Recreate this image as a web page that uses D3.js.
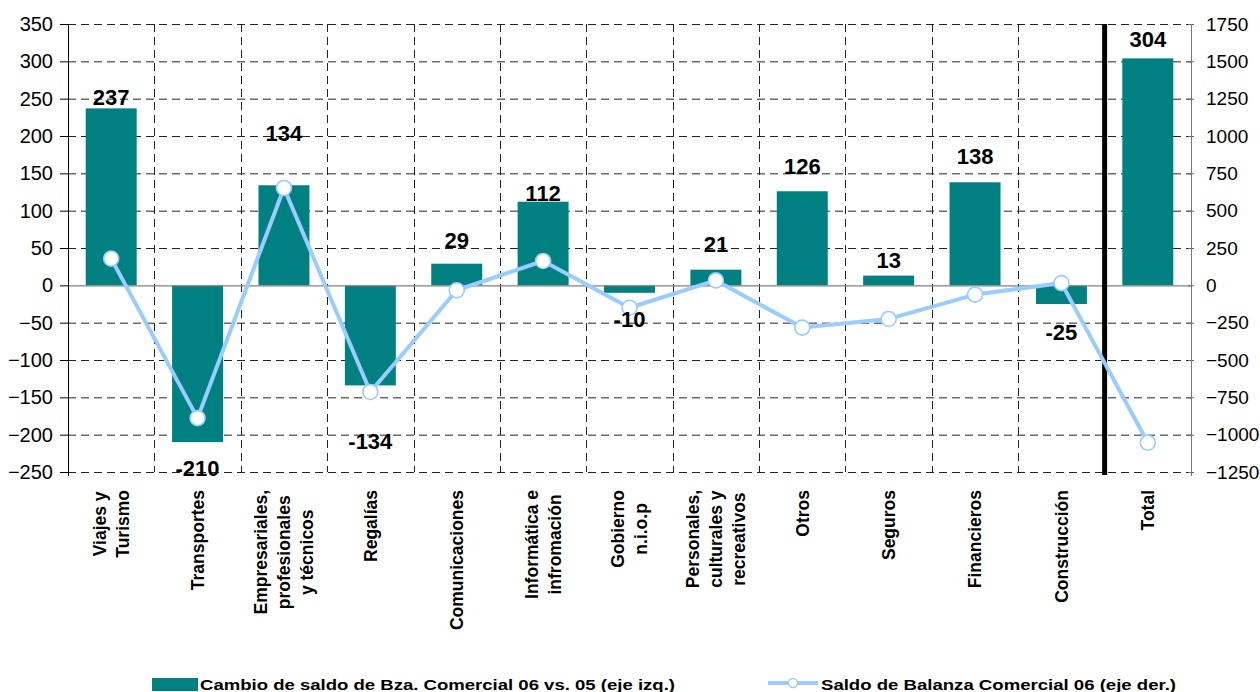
<!DOCTYPE html>
<html>
<head>
<meta charset="utf-8">
<script src="https://cdn.jsdelivr.net/npm/d3@7"></script>
<style>
  html, body { margin: 0; padding: 0; background: #ffffff; }
  svg { display: block; font-family: "Liberation Sans", Arial, sans-serif; }
</style>
</head>
<body>
<svg id="chart" width="1260" height="692"></svg>
<script>
// ---------- data ----------
const categories = [
  "Viajes y\nTurismo", "Transportes", "Empresariales,\nprofesionales\ny técnicos", "Regalías",
  "Comunicaciones", "Informática e\ninfromación", "Gobierno\nn.i.o.p",
  "Personales,\nculturales y\nrecreativos", "Otros", "Seguros", "Financieros",
  "Construcción", "Total"
];
const cambioSaldo = [237, -210, 134, -134, 29, 112, -10, 21, 126, 13, 138, -25, 304];
const saldoBalanza = [179, -889, 652, -714, -33, 163, -150, 33, -283, -225, -62, 15, -1054];
const leftTicks = [350, 300, 250, 200, 150, 100, 50, 0, -50, -100, -150, -200, -250];
const rightTicks = [1750, 1500, 1250, 1000, 750, 500, 250, 0, -250, -500, -750, -1000, -1250];
const seriesNames = ["Cambio de saldo de Bza. Comercial 06 vs. 05 (eje izq.)",
                     "Saldo de Balanza Comercial 06 (eje der.)"];

// ---------- layout / style ----------
const labelDy = [-11, 26, -52, 56, -24, -9, 26, -26, -25, -16, -26, 28, -19]; // manual label offsets (px)
const plot = { left: 68, right: 1191, top: 24, bottom: 472 };
const barColor = "#008080";
const lineColor = "#99CCFF";

const svg = d3.select("#chart");
svg.append("rect").attr("width", 1260).attr("height", 692).attr("fill", "#fff");

const x = d3.scaleBand().domain(categories)
  .range([plot.left, plot.right]).paddingInner(0.41).paddingOuter(0.205);
const yL = d3.scaleLinear().domain([-250, 350]).range([plot.bottom, plot.top]);
const yR = d3.scaleLinear().domain([-1250, 1750]).range([plot.bottom, plot.top]);
const cx = c => x(c) + x.bandwidth() / 2;

// horizontal dashed gridlines
svg.append("g").selectAll("line").data(leftTicks.filter(t => t !== 0)).join("line")
  .attr("x1", plot.left).attr("x2", plot.right)
  .attr("y1", d => yL(d) + 0.5).attr("y2", d => yL(d) + 0.5)
  .attr("stroke", "#222").attr("stroke-width", 1).attr("stroke-dasharray", "8,5");

// vertical dashed gridlines at category boundaries
const bounds = categories.slice(1).map(c => x(c) - x.step() * x.paddingInner() / 2);
svg.append("g").selectAll("line").data(bounds).join("line")
  .attr("x1", d => Math.round(d) + 0.5).attr("x2", d => Math.round(d) + 0.5)
  .attr("y1", plot.top).attr("y2", plot.bottom)
  .attr("stroke", "#222").attr("stroke-width", 1).attr("stroke-dasharray", "8,5");

// bars
svg.append("g").selectAll("rect").data(categories).join("rect")
  .attr("x", d => x(d))
  .attr("width", x.bandwidth())
  .attr("y", (d, i) => Math.min(yL(cambioSaldo[i]), yL(0)))
  .attr("height", (d, i) => Math.abs(yL(cambioSaldo[i]) - yL(0)))
  .attr("fill", barColor);

// zero line
svg.append("line").attr("x1", plot.left).attr("x2", plot.right)
  .attr("y1", yL(0) + 0.5).attr("y2", yL(0) + 0.5)
  .attr("stroke", "#808080").attr("stroke-width", 1.3);

// left axis
const axL = svg.append("g").attr("transform", `translate(${plot.left},0)`)
  .call(d3.axisLeft(yL).tickValues(leftTicks).tickSize(8).tickPadding(7).tickFormat(d3.format("d")));
axL.select(".domain").remove();
axL.selectAll(".tick line").attr("stroke", "#000");
axL.selectAll("text").attr("font-size", 20).attr("fill", "#000")
  .attr("font-family", "'Liberation Sans', Arial, sans-serif");
svg.append("line").attr("x1", plot.left + 0.5).attr("x2", plot.left + 0.5)
  .attr("y1", plot.top).attr("y2", plot.bottom + 4).attr("stroke", "#000");

// right axis
const axR = svg.append("g").attr("transform", `translate(${plot.right},0)`)
  .call(d3.axisRight(yR).tickValues(rightTicks).tickSize(3).tickPadding(12).tickFormat(d3.format("d")));
axR.select(".domain").remove();
axR.selectAll(".tick line").attr("stroke", "#666").attr("x1", -3);
axR.selectAll("text").attr("font-size", 19).attr("fill", "#000")
  .attr("font-family", "'Liberation Sans', Arial, sans-serif");
svg.append("line").attr("x1", plot.right + 0.5).attr("x2", plot.right + 0.5)
  .attr("y1", plot.top).attr("y2", plot.bottom + 4).attr("stroke", "#777");

// thick separator before Total
const sepX = x("Total") - x.step() * x.paddingInner() / 2;
svg.append("line").attr("x1", sepX).attr("x2", sepX)
  .attr("y1", plot.top).attr("y2", plot.bottom + 3)
  .attr("stroke", "#000").attr("stroke-width", 5);

// line series
const line = d3.line().x((d, i) => cx(categories[i])).y(d => yR(d));
svg.append("path").datum(saldoBalanza).attr("d", line)
  .attr("fill", "none").attr("stroke", lineColor).attr("stroke-width", 4)
  .attr("stroke-linejoin", "round");
svg.append("g").selectAll("circle").data(saldoBalanza).join("circle")
  .attr("cx", (d, i) => cx(categories[i])).attr("cy", d => yR(d)).attr("r", 7.5)
  .attr("fill", "#fff").attr("stroke", lineColor).attr("stroke-width", 1.6);

// data labels
svg.append("g").selectAll("text").data(cambioSaldo).join("text")
  .attr("x", (d, i) => cx(categories[i]))
  .attr("y", (d, i) => yL(d) + labelDy[i])
  .attr("dy", "0.36em")
  .attr("text-anchor", "middle")
  .attr("font-size", 22).attr("font-weight", "bold").attr("fill", "#000")
  .text(d => d);

// category labels (rotated, multi-line, centered block)
const lineH = 23;
categories.forEach(c => {
  const lines = c.split("\n");
  const g = svg.append("g").attr("transform", `translate(${cx(c)},490) rotate(-90)`);
  const texts = lines.map((t, i) => g.append("text")
    .attr("y", (i - (lines.length - 1) / 2) * lineH)
    .attr("dy", "0.36em")
    .attr("font-size", 17.5).attr("font-weight", "bold").attr("fill", "#000")
    .attr("text-anchor", "middle").text(t));
  const w = d3.max(texts, t => t.node().getComputedTextLength());
  texts.forEach(t => t.attr("x", -w / 2));
});

// legend
const leg = svg.append("g");
leg.append("rect").attr("x", 152).attr("y", 678).attr("width", 46).attr("height", 13).attr("fill", barColor);
leg.append("text").attr("x", 200).attr("y", 690)
  .attr("font-size", 15).attr("font-weight", "bold").attr("fill", "#000")
  .attr("textLength", 475).attr("lengthAdjust", "spacingAndGlyphs").text(seriesNames[0]);
leg.append("line").attr("x1", 768).attr("x2", 818).attr("y1", 683).attr("y2", 683)
  .attr("stroke", lineColor).attr("stroke-width", 4);
leg.append("circle").attr("cx", 793).attr("cy", 683).attr("r", 4.5)
  .attr("fill", "#fff").attr("stroke", lineColor).attr("stroke-width", 1.3);
leg.append("text").attr("x", 821).attr("y", 690)
  .attr("font-size", 15).attr("font-weight", "bold").attr("fill", "#000")
  .attr("textLength", 355).attr("lengthAdjust", "spacingAndGlyphs").text(seriesNames[1]);
</script>
</body>
</html>
